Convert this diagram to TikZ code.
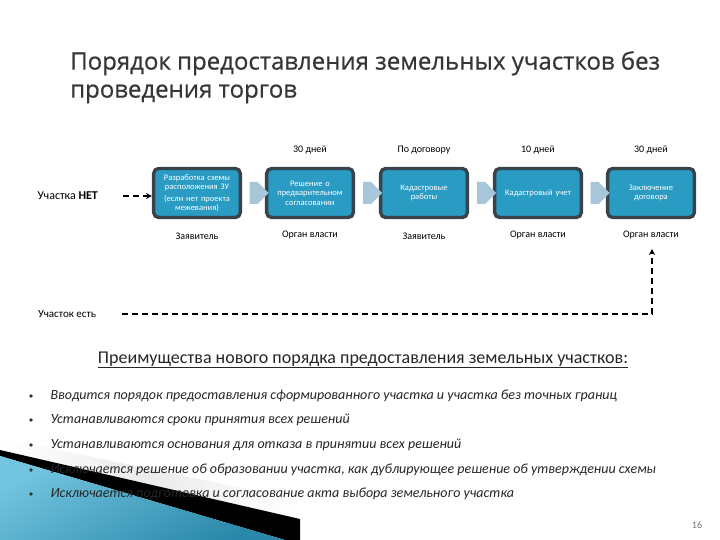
\documentclass[tikz,border=0pt]{standalone}
\usepackage{fontspec}
\setmainfont{Carlito}
\newfontfamily\titlefont[FakeBold=0.6]{Open Sans}
\usetikzlibrary{shapes.arrows,calc,arrows.meta,shadows}
\definecolor{boxfill}{HTML}{2A9BC3}
\definecolor{boxborder}{HTML}{38434C}
\definecolor{arrfill}{HTML}{A8C6DA}
\definecolor{titlegray}{HTML}{363636}
\definecolor{wedgeblue}{HTML}{2A88AA}
\definecolor{wedgelight}{HTML}{72C4DF}
\begin{document}
\begin{tikzpicture}[x=1pt,y=-1pt,
  stagebox/.style={draw=boxborder, line width=3.4pt, fill=boxfill, rounded corners=5pt,
    minimum width=83pt, minimum height=49pt, text width=80pt, align=center,
    text=white, font=\fontsize{8.5}{9.5}\selectfont,
    drop shadow={shadow xshift=0pt, shadow yshift=0pt, opacity=0.25, fill=gray}},
  blockarr/.style={single arrow, draw=none, fill=arrfill, minimum width=22pt,
    single arrow head extend=0pt, minimum height=19pt, inner sep=0pt, single arrow tip angle=90},
  toplbl/.style={font=\fontsize{10}{11}\selectfont, anchor=center},
  dashln/.style={line width=1.8pt, dash pattern=on 6pt off 4pt, black},
  bul/.style={anchor=west, font=\fontsize{14}{16}\selectfont\itshape, text=black!85}
]
\useasboundingbox (0,0) rectangle (720,540);
\fill[white] (0,0) rectangle (720,540);

% bottom-left decoration
\shade[left color=white, right color=white, middle color=black!8] (0,438) -- (300,500) -- (300,540) -- (0,540) -- cycle;
\fill[black] (0,450) -- (300,519) -- (300,540) -- (285,540) -- (0,456) -- cycle;
\shade[top color=wedgelight, bottom color=wedgeblue, shading angle=30] (0,456) -- (285,540) -- (0,540) -- cycle;

% title
\node[anchor=north west, align=left, text=titlegray, font=\titlefont\fontsize{24}{28}\selectfont, inner sep=0pt] (title) at (70,51)
  {Порядок предоставления земельных участков без\\проведения торгов};

% stages
\node[stagebox] (b1) at (197,193) {Разработка схемы\\расположения ЗУ\\[2pt](если нет проекта\\межевания)};
\node[stagebox] (b2) at (310,193) {Решение о\\предварительном\\согласовании};
\node[stagebox] (b3) at (424,193) {Кадастровые\\работы};
\node[stagebox] (b4) at (538,193) {Кадастровый учет};
\node[stagebox] (b5) at (651,193) {Заключение\\договора};

\foreach \a/\b in {b1/b2,b2/b3,b3/b4,b4/b5}
  \node[blockarr] (arr\a) at ($(\a.east)!0.5!(\b.west)$) {};

% top labels
\node[toplbl] (t2) at (310,150) {30 дней};
\node[toplbl] (t3) at (424,150) {По договору};
\node[toplbl] (t4) at (538,150) {10 дней};
\node[toplbl] (t5) at (651,150) {30 дней};

% bottom labels
\node[toplbl] (a1) at (197,236) {Заявитель};
\node[toplbl] (a2) at (310,235) {Орган власти};
\node[toplbl] (a3) at (424,236) {Заявитель};
\node[toplbl] (a4) at (538,235) {Орган власти};
\node[toplbl] (a5) at (651,235) {Орган власти};

% left labels
\node[anchor=west, font=\fontsize{12}{14}\selectfont] (net) at (34,196) {Участка \textbf{НЕТ}};
\coordinate (netstart) at (123,196);
\draw[dashln, -{Stealth[length=6pt,width=6pt]}] (netstart) -- (b1.west |- netstart);

\node[anchor=west, font=\fontsize{11}{13}\selectfont, inner sep=1pt] (est) at (37,314) {Участок есть};
\coordinate (corner) at (652,314);
\coordinate (upend) at (652,249);
\draw[dashln, -{Stealth[length=6pt,width=6pt]}] (est.east -| 122,0) -- (corner) -- (upend);

% subheading
\node[font=\fontsize{18}{20}\selectfont, text=black!85] (sub) at (363,360) {\underline{Преимущества нового порядка предоставления земельных участков:}};

% bullets
\foreach \y/\t in {396/{Вводится порядок предоставления сформированного участка и участка без точных границ},
                   420/{Устанавливаются сроки принятия всех  решений},
                   445/{Устанавливаются основания для отказа в принятии всех решений},
                   470/{Исключается решение об образовании участка, как дублирующее  решение об утверждении схемы},
                   494/{Исключается подготовка и согласование акта выбора  земельного участка}}
  \node[bul] at (47,\y) {\t};
\foreach \y in {396,420,445,470,494}
  \fill[black!80] (31,\y) circle (1.8pt);

\node[font=\fontsize{10}{12}\selectfont, text=black!55] (pg) at (697,525) {16};
\end{tikzpicture}
\end{document}
